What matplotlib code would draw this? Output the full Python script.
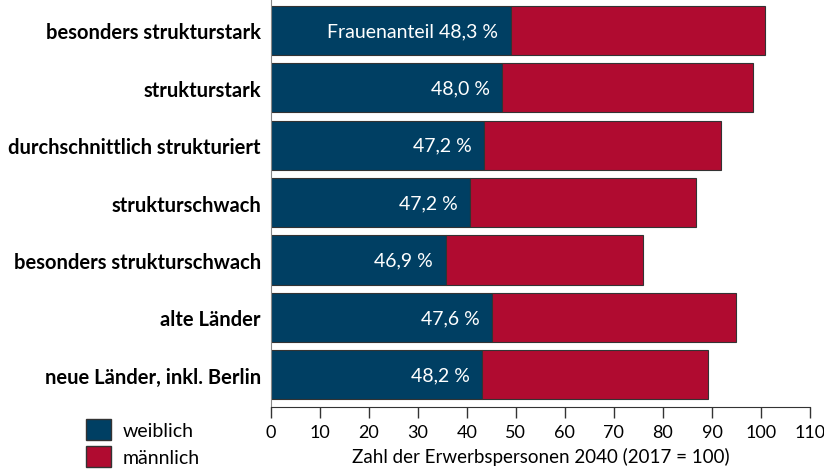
import matplotlib
matplotlib.use("Agg")
import matplotlib.pyplot as plt
from matplotlib.patches import Patch

categories = ["besonders strukturstark", "strukturstark", "durchschnittlich strukturiert",
              "strukturschwach", "besonders strukturschwach", "alte Länder",
              "neue Länder, inkl. Berlin"]
weiblich = [49.0, 47.2, 43.5, 40.7, 35.7, 45.1, 43.2]
maennlich = [51.9, 51.1, 48.3, 46.1, 40.3, 49.8, 45.9]
share_labels = ["Frauenanteil 48,3 %", "48,0 %", "47,2 %", "47,2 %", "46,9 %", "47,6 %", "48,2 %"]
xticks = [0, 10, 20, 30, 40, 50, 60, 70, 80, 90, 100, 110]

FONT = "Lato"
BLUE = "#003f63"
RED = "#b00b30"

fig = plt.figure(figsize=(8.24, 4.77), dpi=100)
ax = fig.add_axes([270.7/824, 1-408/477, (810-270.7)/824, 408/477])

y = list(range(len(categories)))
ax.barh(y, weiblich, height=0.855, color=BLUE, edgecolor="#333333", linewidth=0.8)
ax.barh(y, maennlich, left=weiblich, height=0.855, color=RED, edgecolor="#333333", linewidth=0.8)

for yi, w, lab in zip(y, weiblich, share_labels):
    ax.annotate(lab, xy=(w, yi), xytext=(-9, 0), textcoords="offset points",
                ha="right", va="center", color="white", fontsize=14, family=FONT)

ax.set_ylim(6.56, -0.547)
ax.set_xlim(0, 110)
ax.set_yticks(y)
ax.set_yticklabels(categories, fontsize=14.5, fontweight="bold", family=FONT)
ax.tick_params(axis="y", length=0, pad=7)
ax.set_xticks(xticks)
ax.set_xticklabels([str(t) for t in xticks], fontsize=13, family=FONT)
ax.tick_params(axis="x", length=8, width=1, color="#333333", pad=4)
ax.set_xlabel("Zahl der Erwerbspersonen 2040 (2017 = 100)", fontsize=13.5, family=FONT, labelpad=5)
for s in ["top", "right"]:
    ax.spines[s].set_visible(False)
ax.spines["left"].set_color("#888888")
ax.spines["bottom"].set_color("#333333")

handles = [Patch(facecolor=BLUE, edgecolor="#333333"), Patch(facecolor=RED, edgecolor="#333333")]
fig.legend(handles, ["weiblich", "männlich"], loc="upper left", bbox_to_anchor=(68/824, 1-402/477),
           frameon=False, prop={"family": FONT, "size": 14}, handlelength=1.3, handleheight=1.3,
           labelspacing=0.3, handletextpad=0.6)

fig.savefig("out.png", dpi=100)
